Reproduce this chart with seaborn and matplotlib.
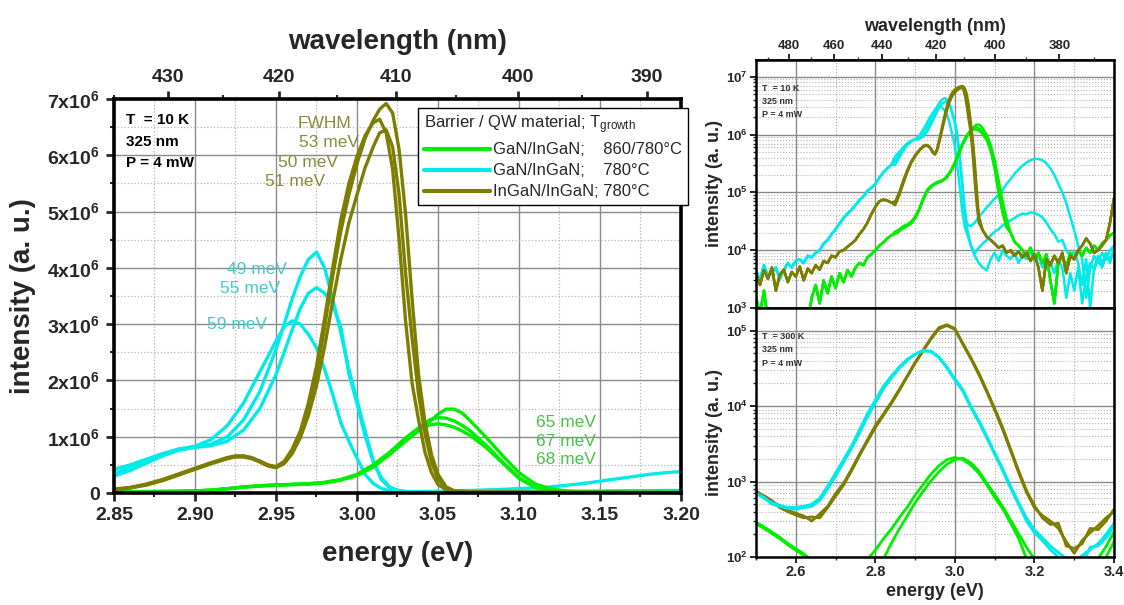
import numpy as np
import matplotlib
matplotlib.use("Agg")
import matplotlib.pyplot as plt
import seaborn as sns
from matplotlib.lines import Line2D
from matplotlib.ticker import MultipleLocator, LogLocator, NullFormatter

# ---------------------------------------------------------------------------
# PL spectra, 10 K (peak region in units of 1e6 counts, tails in counts)
# ---------------------------------------------------------------------------
E_CORE_OL = [2.85, 2.86, 2.87, 2.88, 2.89, 2.90, 2.91, 2.92, 2.925, 2.93,
             2.935, 2.94, 2.945, 2.95, 2.955, 2.96, 2.965, 2.97, 2.975, 2.98,
             2.985, 2.99, 2.995, 3.00, 3.005, 3.01, 3.014, 3.018, 3.022, 3.026,
             3.03, 3.034, 3.038, 3.042, 3.046, 3.05, 3.055, 3.06]
OL1_10K_M = [0.065, 0.09, 0.15, 0.23, 0.33, 0.43, 0.53, 0.62, 0.65, 0.65,
             0.62, 0.56, 0.49, 0.46, 0.54, 0.74, 1.05, 1.5, 2.1, 2.95,
             3.85, 4.65, 5.3, 5.85, 6.3, 6.62, 6.82, 6.92, 6.75, 6.1,
             4.95, 3.45, 2.1, 1.25, 0.68, 0.33, 0.11, 0.04]
OL2_10K_M = [0.07, 0.10, 0.16, 0.24, 0.34, 0.44, 0.54, 0.63, 0.66, 0.66,
             0.63, 0.57, 0.5, 0.47, 0.56, 0.78, 1.1, 1.6, 2.25, 3.1,
             4.0, 4.85, 5.5, 5.98, 6.35, 6.58, 6.64, 6.4, 5.75, 4.5,
             3.05, 1.95, 1.3, 0.72, 0.36, 0.15, 0.06, 0.03]
OL3_10K_M = [0.06, 0.09, 0.14, 0.22, 0.32, 0.42, 0.52, 0.61, 0.64, 0.64,
             0.61, 0.55, 0.48, 0.45, 0.52, 0.7, 0.98, 1.38, 1.9, 2.6,
             3.4, 4.15, 4.8, 5.3, 5.78, 6.15, 6.4, 6.45, 6.15, 5.3,
             3.9, 2.75, 1.75, 1.05, 0.55, 0.25, 0.09, 0.035]

E_CORE_CY = [2.85, 2.86, 2.87, 2.88, 2.89, 2.90, 2.91, 2.92, 2.93, 2.94,
             2.95, 2.955, 2.96, 2.965, 2.97, 2.975, 2.98, 2.985, 2.99, 2.995,
             3.00, 3.005, 3.01, 3.015, 3.02, 3.025, 3.03]
CYA_10K_M = [0.42, 0.5, 0.6, 0.7, 0.78, 0.82, 0.87, 1.0, 1.3, 1.8,
             2.55, 3.0, 3.45, 3.85, 4.15, 4.28, 4.0, 3.45, 2.85, 2.2,
             1.65, 1.1, 0.58, 0.24, 0.1, 0.045, 0.025]
CYB_10K_M = [0.3, 0.4, 0.53, 0.66, 0.76, 0.81, 0.84, 0.92, 1.12, 1.5,
             2.1, 2.5, 2.9, 3.28, 3.55, 3.65, 3.55, 3.35, 2.95, 2.12,
             1.59, 1.02, 0.55, 0.27, 0.11, 0.05, 0.028]
CYC_10K_M = [0.35, 0.45, 0.57, 0.69, 0.78, 0.83, 0.95, 1.2, 1.6, 2.15,
             2.7, 2.95, 3.06, 3.0, 2.82, 2.58, 2.2, 1.75, 1.25, 0.92,
             0.62, 0.33, 0.17, 0.08, 0.04, 0.025, 0.02]

E_CORE_GR = [2.85, 2.86, 2.87, 2.88, 2.89, 2.90, 2.91, 2.92, 2.93, 2.94,
             2.95, 2.96, 2.97, 2.98, 2.99, 3.00, 3.01, 3.02, 3.03, 3.04,
             3.045, 3.05, 3.055, 3.06, 3.065, 3.07, 3.08, 3.09, 3.10, 3.11,
             3.12, 3.13]
GR1_10K_M = [0.02, 0.022, 0.025, 0.027, 0.03, 0.036, 0.05, 0.075, 0.105, 0.125,
             0.14, 0.15, 0.16, 0.18, 0.23, 0.31, 0.46, 0.68, 0.92, 1.15,
             1.27, 1.4, 1.49, 1.49, 1.42, 1.28, 0.98, 0.66, 0.36, 0.16,
             0.07, 0.035]
GR2_10K_M = [0.021, 0.023, 0.026, 0.028, 0.031, 0.038, 0.052, 0.078, 0.11, 0.13,
             0.145, 0.155, 0.165, 0.19, 0.24, 0.33, 0.5, 0.72, 0.98, 1.2,
             1.3, 1.34, 1.33, 1.28, 1.2, 1.1, 0.84, 0.55, 0.27, 0.1,
             0.045, 0.025]
GR3_10K_M = [0.019, 0.021, 0.024, 0.026, 0.029, 0.035, 0.049, 0.074, 0.104, 0.124,
             0.14, 0.15, 0.16, 0.185, 0.235, 0.32, 0.48, 0.7, 0.96, 1.15,
             1.21, 1.23, 1.21, 1.17, 1.1, 1.02, 0.8, 0.53, 0.26, 0.1,
             0.045, 0.025]

# low-energy tails, 2.50 ... 2.84 eV (counts)
OL_TAIL_L = [4000, 2500, 4500, 3200, 5000, 2000, 3800, 4600, 2800, 4200,
             3500, 5200, 3000, 4800, 4000, 5500, 4600, 6500, 6000, 8000,
             7500, 9500, 10000, 11500, 13000, 15000, 19000, 23000, 30000, 42000,
             56000, 70000, 75000, 72000, 67000]
CY_TAIL_L = [4500, 3000, 5500, 3500, 4000, 5000, 3200, 4500, 6000, 5000,
             6500, 7000, 6000, 8000, 7500, 9000, 10000, 13000, 15000, 19000,
             23000, 29000, 36000, 43000, 50000, 60000, 73000, 85000, 105000, 120000,
             140000, 180000, 220000, 260000, 300000]
GR_TAIL_L = [1500, 800, 2000, 600, 900, 500, 700, 400, 600, 500,
             700, 500, 800, 600, 1500, 2500, 1200, 3000, 1800, 3500,
             2200, 4000, 2800, 4500, 3500, 5000, 6000, 5500, 7500, 8500,
             10000, 12000, 13500, 16000, 18000]

# high-energy tails (counts)
OL_TAIL_R = [22000, 17000, 15000, 13000, 11000, 12000, 9000, 10000, 8000, 9500,
             7500, 9000, 6500, 8500, 5000, 2000, 7000, 5500, 8000, 6000,
             9000, 4000, 8000, 7000, 10000, 12000, 16000, 13000, 9000, 10000,
             12000, 15000, 30000, 80000]                       # 3.07 ... 3.40
CYA_TAIL_R = [12000, 8000, 6000, 5000, 4500, 7000, 9000, 6500, 10000, 8000,
              7000, 9000, 6000, 8500, 7000, 9500, 6500, 8000, 5000, 7500,
              6000, 4000, 7000, 5000, 1500, 4000, 2000, 5000, 1200, 3500,
              6000, 4500, 7000, 5000, 8000, 6000, 11000]        # 3.04 ... 3.40
CYB_TAIL_R = [26000, 30000, 38000, 45000, 55000, 65000, 78000, 90000, 110000, 140000,
              170000, 210000, 250000, 290000, 330000, 360000, 380000, 380000, 360000, 320000,
              260000, 200000, 140000, 100000, 65000, 38000, 22000, 12000, 7000, 1500,
              5000, 8000, 6000, 9000, 7000, 10000, 12000]
CYC_TAIL_R = [12000, 9000, 11000, 13000, 15000, 18000, 21000, 23000, 27000, 30000,
              33000, 36000, 40000, 43000, 42000, 45000, 44000, 41000, 37000, 30000,
              23000, 19000, 14000, 15000, 10000, 8000, 9500, 6000, 2500, 7000,
              1000, 5000, 8000, 6000, 9000, 7000, 10000]
GR_TAIL_R = [20000, 14000, 12000, 10000, 8000, 11000, 7000, 9000, 6000, 8500,
             3000, 1200, 6000, 8000, 5000, 9000, 7000, 10000, 8000, 11000,
             9000, 12000, 10000, 13000, 15000, 18000, 20000]     # 3.14 ... 3.40

# ---------------------------------------------------------------------------
# PL spectra, 300 K (counts), energy grid 2.50 ... 3.40 eV in 0.02 eV steps
# ---------------------------------------------------------------------------
OL1_300K = [760, 630, 540, 480, 420, 380, 350, 300, 370, 470,
            690, 950, 1450, 2300, 3550, 5500, 7800, 11200, 16600, 25000,
            38000, 55000, 80000, 110000, 120000, 107000, 66000, 42700, 26300, 15500,
            8900, 4900, 2570, 1320, 720, 450, 355, 300, 240, 160,
            112, 166, 210, 260, 330, 400]
OL2_300K = [700, 650, 560, 450, 400, 360, 330, 340, 330, 450,
            640, 900, 1380, 2200, 3400, 5200, 7500, 10800, 16000, 24500,
            37000, 54000, 78000, 106000, 117000, 104000, 68000, 44000, 27500, 16200,
            9300, 5200, 2700, 1400, 760, 480, 330, 270, 280, 140,
            130, 150, 240, 230, 300, 430]
CY1_300K = [710, 600, 525, 480, 455, 455, 470, 500, 600, 870,
            1290, 1950, 2950, 4800, 7900, 12000, 18200, 25000, 33000, 41700,
            49000, 55000, 53700, 44700, 33000, 23000, 16600, 10000, 6500, 4000,
            2400, 1480, 870, 525, 330, 230, 180, 140, 115, 95,
            83, 105, 125, 150, 200, 280]
CY2_300K = [690, 620, 500, 470, 440, 430, 450, 470, 560, 800,
            1180, 1800, 2750, 4400, 7200, 11000, 16800, 23500, 31500, 40500,
            48500, 54000, 52500, 44000, 32000, 22000, 15800, 9600, 6200, 3800,
            2300, 1400, 820, 500, 300, 210, 165, 125, 100, 88,
            92, 80, 135, 140, 180, 250]
GR1_300K = [288, 251, 214, 182, 151, 129, 110, 91, 76, 63,
            52, 48, 56, 72, 93, 123, 174, 234, 331, 457,
            661, 912, 1259, 1622, 1950, 2089, 1950, 1660, 1288, 912,
            617, 437, 282, 178, 95, 71, 56, 50, 45, 40,
            42, 50, 66, 95, 138, 214]
GR2_300K = [275, 240, 205, 175, 145, 123, 105, 87, 72, 60,
            50, 44, 40, 45, 55, 71, 93, 151, 234, 347,
            525, 741, 1023, 1349, 1698, 1950, 2042, 1778, 1380, 955,
            676, 468, 309, 204, 135, 93, 71, 60, 52, 48,
            46, 52, 60, 75, 100, 160]

# text content
LEGEND_TITLE = r"Barrier / QW material; T$_{\mathregular{growth}}$"
LEGEND_LABELS = ["GaN/InGaN;    860/780°C", "GaN/InGaN;    780°C", "InGaN/InGaN; 780°C"]
FWHM_OL = ["53 meV", "50 meV", "51 meV"]
FWHM_CY = ["49 meV", "55 meV", "59 meV"]
FWHM_GR = ["65 meV", "67 meV", "68 meV"]
WL_TICKS_MAIN = [430, 420, 410, 400, 390]
WL_TICKS_SIDE = [480, 460, 440, 420, 400, 380]

GREEN = "#00ee00"
CYAN = "#00eaea"
OLIVE = "#7d7d00"
GRID_MAJ = "#8a8a8a"
GRID_MIN = "#b4b4b4"

# ---------------------------------------------------------------------------
sns.set_theme(style="white")
plt.rcParams["font.family"] = ["Liberation Sans", "DejaVu Sans"]
plt.rcParams["font.weight"] = "bold"
plt.rcParams["mathtext.fontset"] = "custom"
plt.rcParams["mathtext.rm"] = "Liberation Sans"
plt.rcParams["mathtext.bf"] = "Liberation Sans:bold"
plt.rcParams["mathtext.default"] = "regular"

E_TAIL_L = np.round(np.arange(2.50, 2.845, 0.01), 2)
E_OL_R = np.round(np.arange(3.07, 3.405, 0.01), 2)
E_CY_R = np.round(np.arange(3.04, 3.405, 0.01), 2)
E_GR_R = np.round(np.arange(3.14, 3.405, 0.01), 2)
E300 = np.round(np.arange(2.50, 3.405, 0.02), 2)


def spectrum(tail_l, e_core, core_m, e_r, tail_r):
    e = np.concatenate([E_TAIL_L, e_core, e_r])
    y = np.concatenate([tail_l, np.asarray(core_m) * 1e6, tail_r])
    return e, y


spectra_10k = [
    (CYAN,) + spectrum(CY_TAIL_L, E_CORE_CY, CYA_10K_M, E_CY_R, CYA_TAIL_R),
    (CYAN,) + spectrum(CY_TAIL_L, E_CORE_CY, CYB_10K_M, E_CY_R, CYB_TAIL_R),
    (CYAN,) + spectrum(CY_TAIL_L, E_CORE_CY, CYC_10K_M, E_CY_R, CYC_TAIL_R),
    (GREEN,) + spectrum(GR_TAIL_L, E_CORE_GR, GR1_10K_M, E_GR_R, GR_TAIL_R),
    (GREEN,) + spectrum(GR_TAIL_L, E_CORE_GR, GR2_10K_M, E_GR_R, GR_TAIL_R),
    (GREEN,) + spectrum(GR_TAIL_L, E_CORE_GR, GR3_10K_M, E_GR_R, GR_TAIL_R),
    (OLIVE,) + spectrum(OL_TAIL_L, E_CORE_OL, OL1_10K_M, E_OL_R, OL_TAIL_R),
    (OLIVE,) + spectrum(OL_TAIL_L, E_CORE_OL, OL2_10K_M, E_OL_R, OL_TAIL_R),
    (OLIVE,) + spectrum(OL_TAIL_L, E_CORE_OL, OL3_10K_M, E_OL_R, OL_TAIL_R),
]
spectra_300k = [
    (GREEN, E300, np.array(GR1_300K, float)),
    (GREEN, E300, np.array(GR2_300K, float)),
    (OLIVE, E300, np.array(OL1_300K, float)),
    (OLIVE, E300, np.array(OL2_300K, float)),
    (CYAN, E300, np.array(CY1_300K, float)),
    (CYAN, E300, np.array(CY2_300K, float)),
]


def ev_nm(x):
    x = np.array(x, dtype=float)
    out = np.full_like(x, np.inf)
    ok = np.abs(x) > 1e-9
    out[ok] = 1239.84 / x[ok]
    return out


def draw(ax, e, y, color, lw):
    sns.lineplot(x=e, y=y, ax=ax, color=color, linewidth=lw, sort=False,
                 estimator=None, legend=False)


def style_spines(ax, lw):
    for s in ax.spines.values():
        s.set_visible(True)
        s.set_color("black")
        s.set_linewidth(lw)


fig = plt.figure(figsize=(11.24, 6.05), dpi=100)
ax = fig.add_axes([0.10142, 0.18512, 0.50445, 0.65124])
ax_t = fig.add_axes([0.67260, 0.49091, 0.31851, 0.40992])
ax_b = fig.add_axes([0.67260, 0.07934, 0.31851, 0.41157])

# ------------------------------- main panel --------------------------------
for color, e, y in spectra_10k:
    draw(ax, e, y, color, 2.4)
ax.set_xlim(2.85, 3.20)
ax.set_ylim(0, 7e6)
ax.xaxis.set_major_locator(MultipleLocator(0.05))
ax.xaxis.set_minor_locator(MultipleLocator(0.025))
ax.set_xticks(ax.get_xticks())
ax.set_xticklabels([f"{v:.2f}" for v in ax.get_xticks()])
ax.set_xlim(2.85, 3.20)
yt = [i * 1e6 for i in range(8)]
ax.set_yticks(yt, ["0"] + [r"$\mathbf{%dx10^{6}}$" % i for i in range(1, 8)])
ax.yaxis.set_minor_locator(MultipleLocator(0.5e6))
ax.grid(which="major", color=GRID_MAJ, lw=1.0, ls="-")
ax.grid(which="minor", color=GRID_MIN, lw=0.9, ls=":")
ax.set_axisbelow(True)
style_spines(ax, 2.6)
ax.tick_params(which="major", direction="out", length=6, width=2, labelsize=14,
               bottom=True, left=True, top=False, right=False, pad=4)
ax.tick_params(which="minor", direction="out", length=3, width=1.5,
               bottom=True, left=True, top=False, right=False)
ax.set_xlabel("energy (eV)", fontsize=20, fontweight="bold", labelpad=12)
ax.set_ylabel("intensity (a. u.)", fontsize=20, fontweight="bold", labelpad=8)

sec = ax.secondary_xaxis("top", functions=(ev_nm, ev_nm))
sec.set_xticks(WL_TICKS_MAIN)
sec.set_xticklabels([str(v) for v in WL_TICKS_MAIN])
sec.xaxis.set_minor_locator(MultipleLocator(5))
sec.tick_params(which="major", direction="out", length=6, width=2, labelsize=14)
sec.tick_params(which="minor", direction="out", length=3, width=1.5)
sec.set_xlabel("wavelength (nm)", fontsize=20, fontweight="bold", labelpad=14)

for k, t in enumerate(["T  = 10 K", "325 nm", "P = 4 mW"]):
    ax.text(0.021, 0.947 - k * 0.055, t, transform=ax.transAxes, fontsize=11,
            fontweight="bold", va="center", ha="left", color="black")

OL_TXT = "#8a8a3c"
CY_TXT = "#45c8cc"
GR_TXT = "#47c247"
ax.text(2.980, 6.56e6, "FWHM", color=OL_TXT, fontsize=12.5, fontweight="normal",
        ha="center", va="center")
for (ex, iy), t in zip([(2.983, 6.22e6), (2.970, 5.88e6), (2.962, 5.53e6)], FWHM_OL):
    ax.text(ex, iy, t, color=OL_TXT, fontsize=12.5, fontweight="normal",
            ha="center", va="center")
for (ex, iy), t in zip([(2.938, 3.97e6), (2.934, 3.64e6), (2.926, 2.99e6)], FWHM_CY):
    ax.text(ex, iy, t, color=CY_TXT, fontsize=12.5, fontweight="normal",
            ha="center", va="center")
for (ex, iy), t in zip([(3.129, 1.245e6), (3.129, 0.91e6), (3.129, 0.59e6)], FWHM_GR):
    ax.text(ex, iy, t, color=GR_TXT, fontsize=12.5, fontweight="normal",
            ha="center", va="center")

handles = [Line2D([0], [0], color=c, lw=3) for c in (GREEN, CYAN, OLIVE)]
leg = ax.legend(handles, LEGEND_LABELS, title=LEGEND_TITLE, loc="upper left",
                bbox_to_anchor=(0.536, 0.977), frameon=True, fancybox=False,
                edgecolor="black", facecolor="white", framealpha=1,
                prop={"size": 12, "weight": "normal"},
                title_fontproperties={"size": 12, "weight": "normal"},
                handlelength=4.0, handletextpad=0.15, borderpad=0.35,
                labelspacing=0.36, borderaxespad=0, alignment="left")
leg.get_frame().set_linewidth(1.0)
leg.set_zorder(10)

# ------------------------------ side panels --------------------------------
for color, e, y in spectra_10k:
    draw(ax_t, e, y, color, 1.8)
for color, e, y in spectra_300k:
    draw(ax_b, e, y, color, 2.0)

for a, ylo, yhi in ((ax_t, 1e3, 1.95e7), (ax_b, 1e2, 2.0e5)):
    a.set_yscale("log")
    a.set_xlim(2.5, 3.4)
    a.set_ylim(ylo, yhi)
    a.xaxis.set_major_locator(MultipleLocator(0.2))
    a.xaxis.set_minor_locator(MultipleLocator(0.1))
    a.yaxis.set_major_locator(LogLocator(base=10, numticks=12))
    a.yaxis.set_minor_locator(LogLocator(base=10, subs=np.arange(2, 10), numticks=12))
    a.yaxis.set_minor_formatter(NullFormatter())
    a.grid(which="major", color=GRID_MAJ, lw=1.0, ls="-")
    a.grid(which="minor", color=GRID_MIN, lw=0.8, ls=":")
    a.set_axisbelow(True)
    style_spines(a, 1.8)
    a.tick_params(which="major", direction="out", length=4, width=1.4, labelsize=9.5,
                  bottom=True, left=True, top=False, right=False, pad=2)
    a.tick_params(which="minor", direction="out", length=2, width=1.0,
                  bottom=True, left=True, top=False, right=False)
    a.set_ylabel("intensity (a. u.)", fontsize=13, fontweight="bold", labelpad=2)

ax_t.set_yticks([1e3, 1e4, 1e5, 1e6, 1e7],
                [r"$\mathbf{10^{%d}}$" % p for p in range(3, 8)])
ax_b.set_yticks([1e2, 1e3, 1e4, 1e5],
                [r"$\mathbf{10^{%d}}$" % p for p in range(2, 6)])
ax_t.set_ylim(1e3, 1.95e7)
ax_b.set_ylim(1e2, 2.0e5)
ax_t.tick_params(labelbottom=False)
ax_t.set_xlabel("")
ax_b.set_xticks([2.6, 2.8, 3.0, 3.2, 3.4], ["2.6", "2.8", "3.0", "3.2", "3.4"])
ax_b.set_xlim(2.5, 3.4)
ax_b.tick_params(axis="x", labelsize=10.5)
ax_b.set_xlabel("energy (eV)", fontsize=13, fontweight="bold", labelpad=3)

sec_t = ax_t.secondary_xaxis("top", functions=(ev_nm, ev_nm))
sec_t.set_xticks(WL_TICKS_SIDE)
sec_t.set_xticklabels([str(v) for v in WL_TICKS_SIDE])
sec_t.xaxis.set_minor_locator(MultipleLocator(10))
sec_t.tick_params(which="major", direction="out", length=4, width=1.4, labelsize=9.5, pad=2)
sec_t.tick_params(which="minor", direction="out", length=2, width=1.0)
sec_t.set_xlabel("wavelength (nm)", fontsize=13, fontweight="bold", labelpad=6)

for a, lines in ((ax_t, ["T  = 10 K", "325 nm", "P = 4 mW"]),
                 (ax_b, ["T  = 300 K", "325 nm", "P = 4 mW"])):
    for k, t in enumerate(lines):
        a.text(0.018, 0.885 - k * 0.053, t, transform=a.transAxes, fontsize=6.5,
               fontweight="bold", va="center", ha="left", color="#333333")

fig.savefig("out.png", dpi=100)
